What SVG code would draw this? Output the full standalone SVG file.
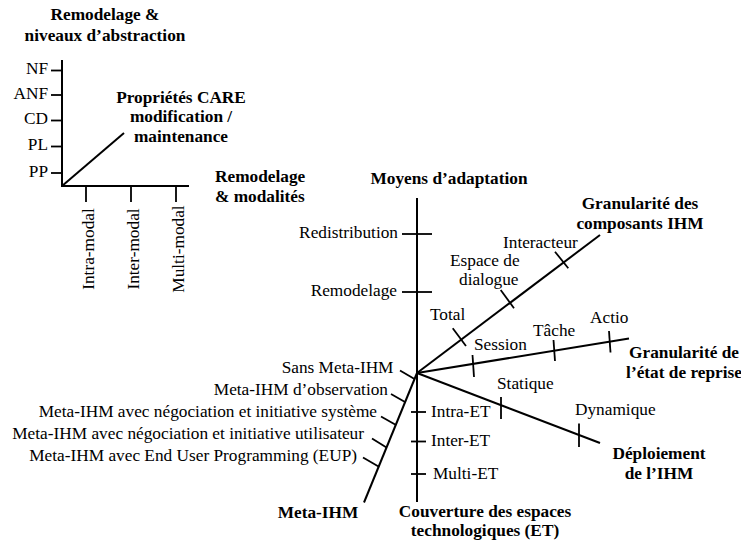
<svg xmlns="http://www.w3.org/2000/svg" width="741" height="544" viewBox="0 0 741 544" font-family="'Liberation Serif', 'Times New Roman', Times, Tinos, 'Nimbus Roman', 'DejaVu Serif', serif">
<style>
text { font-family: 'Liberation Serif', 'Times New Roman', Times, Tinos, 'Nimbus Roman', 'DejaVu Serif', serif; font-size: 17.3px; fill: #000; }
.b { font-weight: bold; }
.m { text-anchor: middle; }
.e { text-anchor: end; }
line { stroke: #000; stroke-width: 2; fill: none; stroke-linecap: butt; }
.k { stroke-width: 1.8; }
</style>
<rect width="741" height="544" fill="#fff"/>

<g id="chart-remodelage">
  <g id="connectors-remodelage">
    <line x1="62" y1="60" x2="62" y2="187"/>
    <line x1="61" y1="186" x2="189" y2="186"/>
    <line x1="62" y1="186" x2="124" y2="133"/>
  </g>
  <g id="axis-niveaux">
    <text class="b m" x="105" y="20">Remodelage &amp;</text>
    <text class="b m" x="105" y="41">niveaux d’abstraction</text>
    <line class="k" x1="51" y1="70.5" x2="62" y2="70.5"/>
    <line class="k" x1="51" y1="95" x2="62" y2="95"/>
    <line class="k" x1="51" y1="120.5" x2="62" y2="120.5"/>
    <line class="k" x1="51" y1="146.5" x2="62" y2="146.5"/>
    <line class="k" x1="51" y1="173" x2="62" y2="173"/>
    <text class="e" x="48" y="74">NF</text>
    <text class="e" x="48" y="98.5">ANF</text>
    <text class="e" x="48" y="124">CD</text>
    <text class="e" x="48" y="150">PL</text>
    <text class="e" x="48" y="176.5">PP</text>
  </g>
  <g id="axis-care">
    <text class="b m" x="181" y="102.5">Propriétés CARE</text>
    <text class="b m" x="181" y="122">modification /</text>
    <text class="b m" x="181" y="141.5">maintenance</text>
  </g>
  <g id="axis-modalites">
    <text class="b" x="215" y="181.5">Remodelage</text>
    <text class="b" x="215" y="201.5">&amp; modalités</text>
    <line class="k" x1="86" y1="186" x2="86" y2="202"/>
    <line class="k" x1="131" y1="186" x2="131" y2="202"/>
    <line class="k" x1="176" y1="186" x2="176" y2="202"/>
    <text class="m" transform="translate(93.5,249) rotate(-90)">Intra-modal</text>
    <text class="m" transform="translate(139,249) rotate(-90)">Inter-modal</text>
    <text class="m" transform="translate(184,249) rotate(-90)">Multi-modal</text>
  </g>
</g>

<g id="chart-adaptation">
  <g id="connectors">
    <line x1="417" y1="198" x2="417" y2="502"/>
    <line x1="417" y1="373" x2="600" y2="235"/>
    <line x1="417" y1="373" x2="629" y2="338.5"/>
    <line x1="417" y1="373" x2="600" y2="443"/>
    <line x1="417" y1="373" x2="364" y2="502.5"/>
  </g>
  <g id="axis-moyens">
    <text class="b m" x="449" y="184">Moyens d’adaptation</text>
    <line class="k" x1="402" y1="234" x2="432" y2="234"/>
    <line class="k" x1="402" y1="292" x2="432" y2="292"/>
    <text class="e" x="398" y="237.5">Redistribution</text>
    <text class="e" x="397" y="295.5">Remodelage</text>
  </g>
  <g id="axis-composants">
    <text class="b m" x="640" y="209">Granularité des</text>
    <text class="b m" x="640" y="229">composants IHM</text>
    <line class="k" x1="452.7" y1="328.3" x2="466" y2="346"/>
    <line class="k" x1="500.7" y1="290" x2="514" y2="308.3"/>
    <line class="k" x1="555" y1="251.7" x2="568.3" y2="268.3"/>
    <text x="430" y="320">Total</text>
    <text x="450" y="265.5">Espace de</text>
    <text x="459" y="285">dialogue</text>
    <text x="503" y="248">Interacteur</text>
  </g>
  <g id="axis-reprise">
    <text class="b m" x="684" y="358">Granularité de</text>
    <text class="b m" x="684" y="378">l’état de reprise</text>
    <line class="k" x1="472.5" y1="355" x2="474" y2="377"/>
    <line class="k" x1="553.5" y1="340" x2="555" y2="361"/>
    <line class="k" x1="609" y1="331" x2="610.5" y2="352.5"/>
    <text x="474" y="350">Session</text>
    <text x="533" y="336">Tâche</text>
    <text x="590" y="323">Actio</text>
  </g>
  <g id="axis-deploiement">
    <text class="b m" x="659" y="459">Déploiement</text>
    <text class="b m" x="659" y="478.5">de l’IHM</text>
    <line class="k" x1="501" y1="397" x2="501" y2="419"/>
    <line class="k" x1="579" y1="423.5" x2="579" y2="447"/>
    <text x="497" y="388.5">Statique</text>
    <text x="575" y="415">Dynamique</text>
  </g>
  <g id="axis-couverture">
    <text class="b m" x="485" y="517">Couverture des espaces</text>
    <text class="b m" x="485" y="536">technologiques (ET)</text>
    <line class="k" x1="411" y1="412" x2="426" y2="412"/>
    <line class="k" x1="411" y1="441.5" x2="426" y2="441.5"/>
    <line class="k" x1="411" y1="474" x2="426" y2="474"/>
    <text x="431" y="416.5">Intra-ET</text>
    <text x="431" y="445.5">Inter-ET</text>
    <text x="433" y="478.5">Multi-ET</text>
  </g>
  <g id="axis-meta">
    <text class="b m" x="318" y="518">Meta-IHM</text>
    <line class="k" x1="400" y1="370.5" x2="414.5" y2="379"/>
    <line class="k" x1="391" y1="394" x2="405" y2="402"/>
    <line class="k" x1="381" y1="416.5" x2="396" y2="425"/>
    <line class="k" x1="372" y1="438.5" x2="386.5" y2="447.5"/>
    <line class="k" x1="363" y1="457.5" x2="378.5" y2="466.5"/>
    <text class="e" x="393.5" y="373">Sans Meta-IHM</text>
    <text class="e" x="388" y="395">Meta-IHM d’observation</text>
    <text class="e" x="377" y="417">Meta-IHM avec négociation et initiative système</text>
    <text class="e" x="364" y="439">Meta-IHM avec négociation et initiative utilisateur</text>
    <text class="e" x="357" y="461">Meta-IHM avec End User Programming (EUP)</text>
  </g>
</g>
</svg>
